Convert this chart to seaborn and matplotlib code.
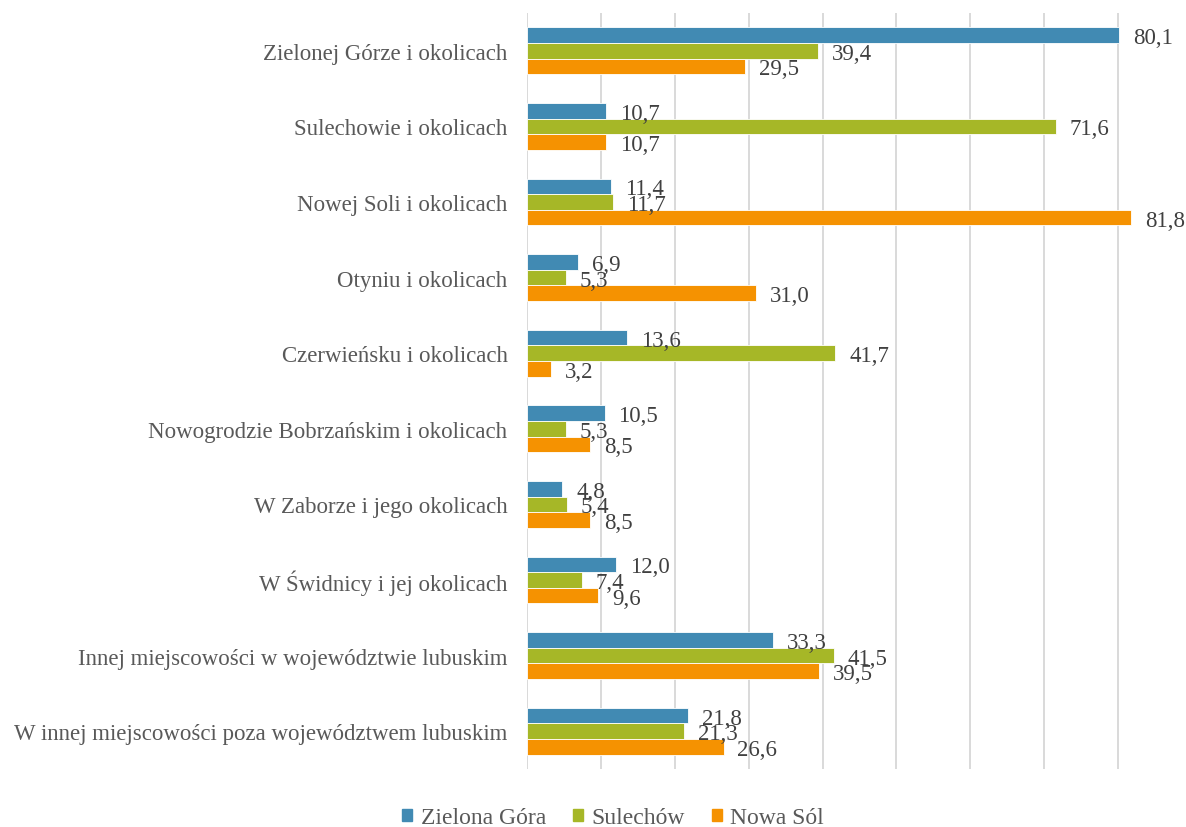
import numpy as np
import pandas as pd
import matplotlib
matplotlib.use("Agg")
import matplotlib.pyplot as plt
from matplotlib.font_manager import FontProperties
import seaborn as sns

categories = [
    "Zielonej Górze i okolicach",
    "Sulechowie i okolicach",
    "Nowej Soli i okolicach",
    "Otyniu i okolicach",
    "Czerwieńsku i okolicach",
    "Nowogrodzie Bobrzańskim i okolicach",
    "W Zaborze i jego okolicach",
    "W Świdnicy i jej okolicach",
    "Innej miejscowości w województwie lubuskim",
    "W innej miejscowości poza województwem lubuskim",
]
series_names = ["Zielona Góra", "Sulechów", "Nowa Sól"]
zielona_gora = [80.1, 10.7, 11.4, 6.9, 13.6, 10.5, 4.8, 12.0, 33.3, 21.8]
sulechow = [39.4, 71.6, 11.7, 5.3, 41.7, 5.3, 5.4, 7.4, 41.5, 21.3]
nowa_sol = [29.5, 10.7, 81.8, 31.0, 3.2, 8.5, 8.5, 9.6, 39.5, 26.6]

colors = ["#418AB3", "#A6B727", "#F59201"]

rows = []
for name, vals in zip(series_names, [zielona_gora, sulechow, nowa_sol]):
    for cat, v in zip(categories, vals):
        rows.append({"miejsce": cat, "miasto": name, "procent": v})
df = pd.DataFrame(rows)

sns.set_theme(style="white")
plt.rcParams["font.family"] = ["Liberation Serif", "DejaVu Serif"]

W, H = 1186, 828
fig = plt.figure(figsize=(W / 100, H / 100), dpi=100)
left, right, top, bottom = 527, 1192, 14, 770
ax = fig.add_axes([left / W, 1 - bottom / H, (right - left) / W, (bottom - top) / H])

sns.barplot(
    data=df, y="miejsce", x="procent", hue="miasto",
    order=categories, hue_order=series_names, palette=colors,
    saturation=1, orient="h", width=0.62, edgecolor="white", linewidth=0.6,
    legend=False, ax=ax, zorder=2,
)

ax.set_xlim(0, 90)
ax.set_ylim(len(categories) - 0.5, -0.5)
ax.set_xticks(np.arange(0, 91, 10))
ax.xaxis.grid(True, color="#D9D9D9", linewidth=1.4, zorder=0)
ax.set_axisbelow(True)
ax.tick_params(axis="x", labelbottom=False, length=0)
ax.tick_params(axis="y", length=0, pad=14, labelsize=16.5, labelcolor="#595959")
for t in ax.get_yticklabels():
    t.set_va("center_baseline")
ax.set_xlabel("")
ax.set_ylabel("")
for s in ax.spines.values():
    s.set_visible(False)

for cont, vals in zip(ax.containers, [zielona_gora, sulechow, nowa_sol]):
    txts = ax.bar_label(
        cont, labels=[f"{v:.1f}".replace(".", ",") for v in vals],
        padding=10, fontsize=16.5, color="#404040",
    )
    for t in txts:
        t.set_va("center_baseline")

handles = [plt.Rectangle((0, 0), 1, 1, color=c) for c in colors]
fig.legend(
    handles, series_names, loc="center", ncol=3,
    bbox_to_anchor=(613 / W, 1 - 819 / H), frameon=False,
    prop=FontProperties(family=["Liberation Serif", "DejaVu Serif"], size=17),
    labelcolor="#595959", handlelength=0.42, handleheight=0.42,
    handletextpad=0.35, columnspacing=1.15,
)

fig.savefig("out.png", dpi=100)
